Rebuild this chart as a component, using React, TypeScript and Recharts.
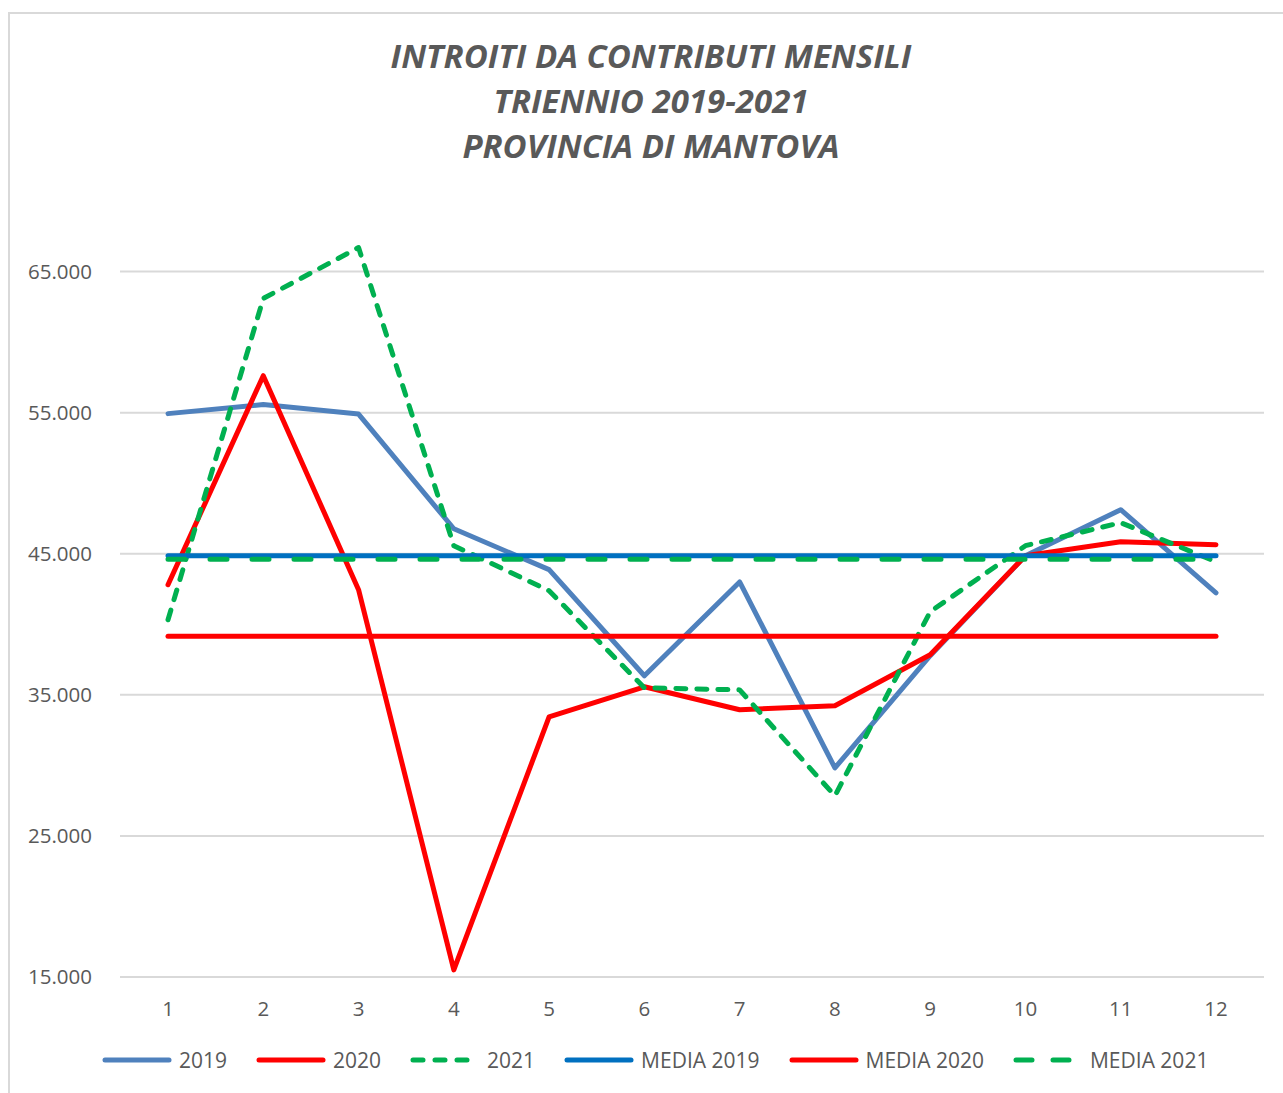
import { LineChart, Line, XAxis, YAxis, CartesianGrid, Legend } from 'recharts';

const months = ['1', '2', '3', '4', '5', '6', '7', '8', '9', '10', '11', '12'];

const y2019 = [54930, 55570, 54900, 46770, 43870, 36350, 43000, 29820, 37770, 44860, 48120, 42230];
const y2020 = [42800, 57620, 42450, 15500, 33440, 35570, 33940, 34220, 37840, 44860, 45850, 45640];
const y2021 = [40320, 63090, 66700, 45570, 42380, 35500, 35350, 27840, 40890, 45570, 47200, 44430];

const media2019 = [44850, 44850, 44850, 44850, 44850, 44850, 44850, 44850, 44850, 44850, 44850, 44850];
const media2020 = [39150, 39150, 39150, 39150, 39150, 39150, 39150, 39150, 39150, 39150, 39150, 39150];
const media2021 = [44600, 44600, 44600, 44600, 44600, 44600, 44600, 44600, 44600, 44600, 44600, 44600];

const yTicks = [15000, 25000, 35000, 45000, 55000, 65000];

const titleLines = ['INTROITI DA CONTRIBUTI MENSILI', 'TRIENNIO 2019-2021', 'PROVINCIA DI MANTOVA'];

const FONT = '"Open Sans", sans-serif';
const GREY = '#595959';

const series = [
  { key: 'y2019', name: '2019', color: '#4F81BD', dash: undefined, legendDash: undefined },
  { key: 'y2020', name: '2020', color: '#FF0000', dash: undefined, legendDash: undefined },
  { key: 'y2021', name: '2021', color: '#00B050', dash: '10 11', legendDash: '10 12' },
  { key: 'm2019', name: 'MEDIA 2019', color: '#0070C0', dash: undefined, legendDash: undefined },
  { key: 'm2020', name: 'MEDIA 2020', color: '#FF0000', dash: undefined, legendDash: undefined },
  { key: 'm2021', name: 'MEDIA 2021', color: '#00B050', dash: '17 25', legendDash: '16 21' },
];

const data = months.map((m, i) => ({
  month: m,
  y2019: y2019[i],
  y2020: y2020[i],
  y2021: y2021[i],
  m2019: media2019[i],
  m2020: media2020[i],
  m2021: media2021[i],
}));

const fmt = (v: number) => String(v).replace(/\B(?=(\d{3})+(?!\d))/g, '.');

function LegendBox() {
  return (
    <div style={{ display: 'flex', alignItems: 'center', paddingLeft: 102, height: 40 }}>
      {series.map((s) => (
        <div key={s.key} style={{ display: 'flex', alignItems: 'center', marginRight: 29 }}>
          <svg width={70} height={10} style={{ display: 'block' }}>
            <line
              x1={3}
              y1={5}
              x2={67}
              y2={5}
              stroke={s.color}
              strokeWidth={5}
              strokeLinecap="round"
              strokeDasharray={s.legendDash}
            />
          </svg>
          <span style={{ marginLeft: 7, fontFamily: FONT, fontSize: 21, color: GREY, lineHeight: '40px' }}>
            {s.name}
          </span>
        </div>
      ))}
    </div>
  );
}

export default function App() {
  return (
    <div
      style={{
        position: 'absolute',
        left: 0,
        top: 0,
        width: 1283,
        height: 1093,
        overflow: 'hidden',
        background: '#fff',
      }}
    >
      <div
        style={{
          position: 'absolute',
          left: 8,
          top: 12,
          width: 1300,
          height: 1100,
          border: '2px solid #D9D9D9',
        }}
      />
      <div
        style={{
          position: 'absolute',
          left: 0,
          top: 33,
          width: 1302,
          textAlign: 'center',
          fontFamily: FONT,
          fontWeight: 700,
          fontStyle: 'italic',
          fontSize: 33,
          lineHeight: '45px',
          color: GREY,
        }}
      >
        {titleLines.map((t) => (
          <div key={t}>{t}</div>
        ))}
      </div>
      <div style={{ position: 'absolute', left: 0, top: 0 }}>
        <LineChart width={1283} height={1093} data={data} margin={{ top: 201, right: 19, left: 0, bottom: 13 }}>
          <CartesianGrid horizontal vertical={false} horizontalValues={yTicks} stroke="#D9D9D9" strokeWidth={2} />
          <XAxis
            dataKey="month"
            axisLine={false}
            tickLine={false}
            tickSize={0}
            tickMargin={24}
            height={63}
            padding={{ left: 48, right: 48 }}
            tick={{ fontFamily: FONT, fontSize: 20.5, fill: GREY }}
          />
          <YAxis
            domain={[15000, 70000]}
            ticks={yTicks}
            allowDataOverflow
            axisLine={false}
            tickLine={false}
            tickSize={0}
            tickMargin={28}
            width={120}
            tickFormatter={fmt}
            tick={{ fontFamily: FONT, fontSize: 20.5, fill: GREY }}
          />
          <Legend verticalAlign="bottom" height={40} content={() => <LegendBox />} />
          {series.map((s) => (
            <Line
              key={s.key}
              type="linear"
              dataKey={s.key}
              name={s.name}
              stroke={s.color}
              strokeWidth={5}
              strokeDasharray={s.dash}
              strokeLinecap="round"
              strokeLinejoin="round"
              dot={false}
              activeDot={false}
              isAnimationActive={false}
            />
          ))}
        </LineChart>
      </div>
    </div>
  );
}
